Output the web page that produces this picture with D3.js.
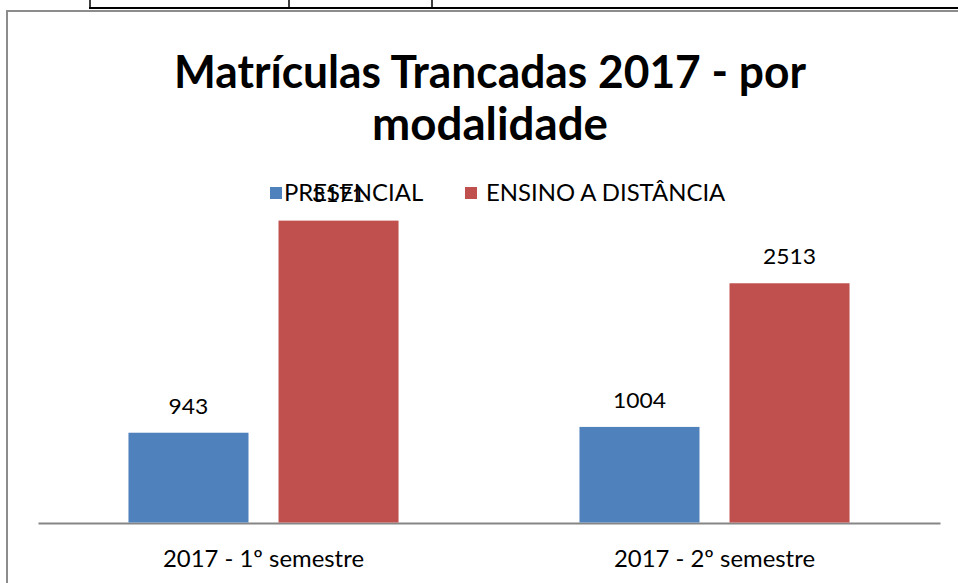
<!DOCTYPE html>
<html><head><meta charset="utf-8">
<script src="https://cdn.jsdelivr.net/npm/d3@7"></script>
<style>body{margin:0;background:#fff}svg{display:block}</style>
</head><body>
<svg id="c" width="958" height="583"></svg>
<script>
const categories = ["2017 - 1º semestre", "2017 - 2º semestre"];
const seriesNames = ["PRESENCIAL", "ENSINO A DISTÂNCIA"];
const presencial = [943, 1004];
const ead = [3171, 2513];
const colors = ["#4F81BD", "#C0504D"];

const svg = d3.select("#c");
const font = "Lato, 'Liberation Sans', sans-serif";

function fit(sel, target) {
  sel.each(function(){
    const w = this.getComputedTextLength();
    if (w > 0) d3.select(this).attr("textLength", target).attr("lengthAdjust","spacingAndGlyphs");
  });
}
function stretch(sel, k) {
  sel.each(function(){
    const w = this.getComputedTextLength();
    d3.select(this).attr("textLength", w*k).attr("lengthAdjust","spacingAndGlyphs");
  });
}

// table fragment above
svg.append("line").attr("x1",89).attr("x2",958).attr("y1",8).attr("y2",8).attr("stroke","#000").attr("stroke-width",2);
[90,289,432].forEach(x=>svg.append("line").attr("x1",x).attr("x2",x).attr("y1",0).attr("y2",8).attr("stroke","#000").attr("stroke-width",1.5));
// chart border
svg.append("path").attr("d","M7,583 V11 H958").attr("fill","none").attr("stroke","#8c8c8c").attr("stroke-width",2);

const x0 = d3.scaleBand().domain(categories).range([38,940]);
const x1 = d3.scaleBand().domain(seriesNames).range([0,x0.bandwidth()]).paddingInner(0.2).paddingOuter(0.603);
const y = d3.scaleLinear().domain([0,3500]).range([522.5, 522.5-3500*0.0952]);

const data = categories.map((c,i)=>({cat:c, vals:[presencial[i], ead[i]]}));

// axis
const ax = svg.append("g").attr("transform","translate(0,523)").call(d3.axisBottom(x0).tickSize(0).tickPadding(0));
ax.select(".domain").attr("stroke","#868686").attr("stroke-width",2);
const catText = ax.selectAll("text").attr("font-family",font).attr("font-size",23).attr("fill","#000").attr("dy",0).attr("y",44);
let kLab = 1;
catText.each(function(){ kLab = 201/this.getComputedTextLength(); });
stretch(catText, kLab);

const g = svg.append("g");
data.forEach(d=>{
  d.vals.forEach((v,j)=>{
    const xx = x0(d.cat)+x1(seriesNames[j]);
    g.append("rect").attr("x",xx).attr("width",x1.bandwidth())
      .attr("y",y(v)).attr("height",y(0)-y(v)).attr("fill",colors[j]);
    const t = g.append("text").attr("x",xx+x1.bandwidth()/2).attr("y",y(v)-19)
      .attr("text-anchor","middle").attr("font-family",font).attr("font-size",22).attr("fill","#000").text(v);
    stretch(t, kLab);
  });
});

// title
const t1 = svg.append("text").attr("x",490).attr("y",88).attr("text-anchor","middle").attr("font-family",font).attr("font-weight","bold").attr("font-size",45).attr("fill","#000").text("Matrículas Trancadas 2017 - por");
fit(t1, 632);
const t2 = svg.append("text").attr("x",490).attr("y",140).attr("text-anchor","middle").attr("font-family",font).attr("font-weight","bold").attr("font-size",45).attr("fill","#000").text("modalidade");
fit(t2, 236);

// legend
const leg = [{x:270, tx:284},{x:465, tx:486}];
seriesNames.forEach((s,j)=>{
  svg.append("rect").attr("x",leg[j].x).attr("y",187).attr("width",12).attr("height",12).attr("fill",colors[j]);
  const lt = svg.append("text").attr("x",leg[j].tx).attr("y",201).attr("font-family",font).attr("font-size",23).attr("fill","#000").text(s);
  stretch(lt, kLab);
});
</script>
</body></html>
